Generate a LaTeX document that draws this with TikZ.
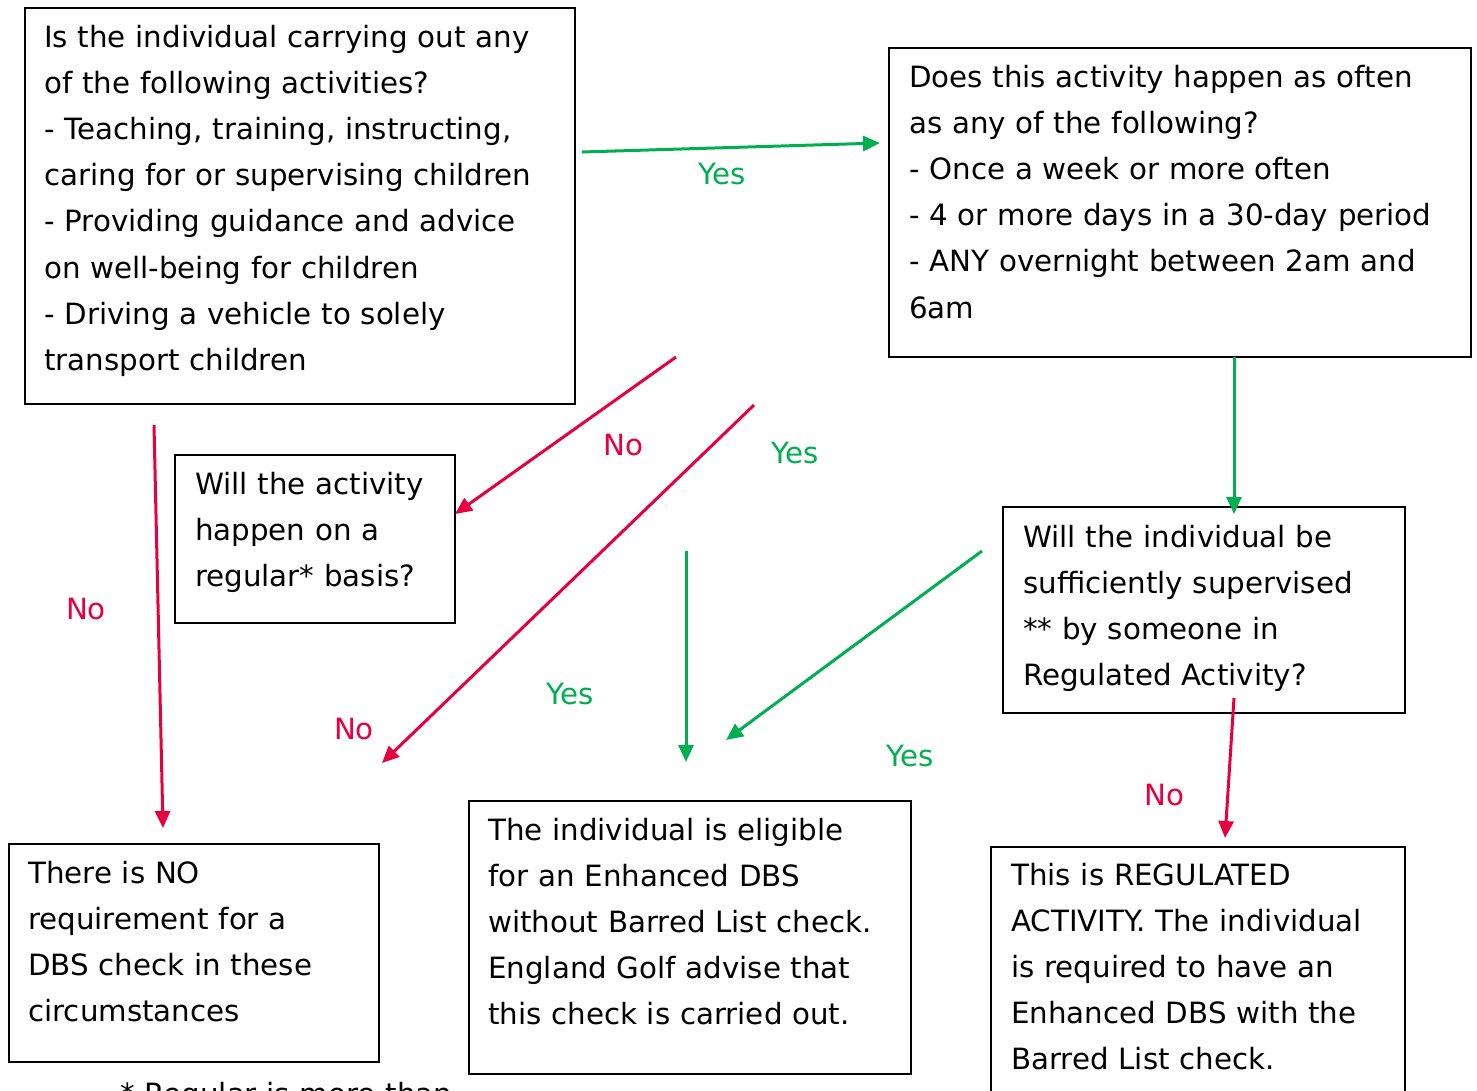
\documentclass[tikz,border=0pt]{standalone}
\usepackage{fontspec}
\setmainfont{DejaVu Sans}
\usepackage{tikz}
\usetikzlibrary{arrows.meta}

\definecolor{yesgreen}{RGB}{0,176,80}
\definecolor{nored}{RGB}{232,0,62}

\begin{document}
\begin{tikzpicture}[x=1pt,y=-1pt,
    box/.style={draw, line width=1.6pt, anchor=north west, inner sep=0pt},
    txt/.style={anchor=base west, align=left, inner sep=0pt, text width=#1,
      font=\fontsize{29.3}{46.2}\selectfont},
    yesarrow/.style={draw=yesgreen, line width=3pt, -{Triangle[length=17pt,width=15pt]}},
    noarrow/.style={draw=nored, line width=3pt, -{Triangle[length=17pt,width=15pt]}},
    yeslabel/.style={text=yesgreen, inner sep=0pt, font=\fontsize{29.3}{34}\selectfont},
    nolabel/.style={text=nored, inner sep=0pt, font=\fontsize{29.3}{34}\selectfont}]

    \useasboundingbox (0,0) rectangle (1477,1090);

    % boxes
    \node[box, minimum width=550pt, minimum height=396pt] (activity) at (24,7) {};
    \node[box, minimum width=582pt, minimum height=309pt] (often) at (888,47) {};
    \node[box, minimum width=280pt, minimum height=168pt] (regular) at (174,454) {};
    \node[box, minimum width=402pt, minimum height=206pt] (supervised) at (1002,506) {};
    \node[box, minimum width=370pt, minimum height=218pt] (nodbs) at (8,843) {};
    \node[box, minimum width=442pt, minimum height=273pt] (enhanced) at (468,800) {};
    \node[box, minimum width=414pt, minimum height=270pt] (regulated) at (990,846) {};

    % texts
    \node[txt=540pt] (activitytext) at (44,47) {Is the individual carrying out any\\
      of the following activities?\\
      - Teaching, training, instructing,\\
      caring for or supervising children\\
      - Providing guidance and advice\\
      on well-being for children\\
      - Driving a vehicle to solely\\
      transport children};
    \node[txt=570pt] (oftentext) at (909,87) {Does this activity happen as often\\
      as any of the following?\\
      - Once a week or more often\\
      - 4 or more days in a 30-day period\\
      - ANY overnight between 2am and\\
      6am};
    \node[txt=270pt] (regulartext) at (195,494) {Will the activity\\
      happen on a\\
      regular* basis?};
    \node[txt=390pt] (supervisedtext) at (1023,547) {Will the individual be\\
      sufficiently supervised\\
      {}** by someone in\\
      Regulated Activity?};
    \node[txt=360pt] (nodbstext) at (28,883) {There is NO\\
      requirement for a\\
      DBS check in these\\
      circumstances};
    \node[txt=430pt] (enhancedtext) at (488,840) {The individual is eligible\\
      for an Enhanced DBS\\
      without Barred List check.\\
      England Golf advise that\\
      this check is carried out.};
    \node[txt=400pt] (regulatedtext) at (1011,885) {This is REGULATED\\
      ACTIVITY. The individual\\
      is required to have an\\
      Enhanced DBS with the\\
      Barred List check.};
    \node[txt=500pt] (footnote) at (120,1104) {* Regular is more than};

    % arrow ends
    \coordinate (yesA) at (582,152);   \coordinate (yesB) at (880,143);
    \coordinate (noA) at (676,357);    \coordinate (noB) at (455,514);
    \coordinate (noC) at (754,405);    \coordinate (noD) at (382,763);
    \coordinate (yesC) at (686,551);   \coordinate (yesD) at (686,762);
    \coordinate (yesE) at (982,551);   \coordinate (yesF) at (726,740);
    \coordinate (yesG) at (1234,357);  \coordinate (yesH) at (1234,514);
    \coordinate (noE) at (1234,698);   \coordinate (noF) at (1225,838);
    \coordinate (noG) at (154,425);    \coordinate (noH) at (163,828);

    \draw[yesarrow] (yesA) -- (yesB);
    \draw[noarrow] (noA) -- (noB);
    \draw[noarrow] (noC) -- (noD);
    \draw[yesarrow] (yesC) -- (yesD);
    \draw[yesarrow] (yesE) -- (yesF);
    \draw[yesarrow] (yesG) -- (yesH);
    \draw[noarrow] (noE) -- (noF);
    \draw[noarrow] (noG) -- (noH);

    % labels
    \node[yeslabel] (yes1) at (722,174) {Yes};
    \node[nolabel] (no1) at (623,445) {No};
    \node[yeslabel] (yes2) at (795,453) {Yes};
    \node[nolabel] (no2) at (86,609) {No};
    \node[yeslabel] (yes3) at (570,694) {Yes};
    \node[nolabel] (no3) at (354,729) {No};
    \node[yeslabel] (yes4) at (910,756) {Yes};
    \node[nolabel] (no4) at (1164,795) {No};
\end{tikzpicture}
\end{document}
